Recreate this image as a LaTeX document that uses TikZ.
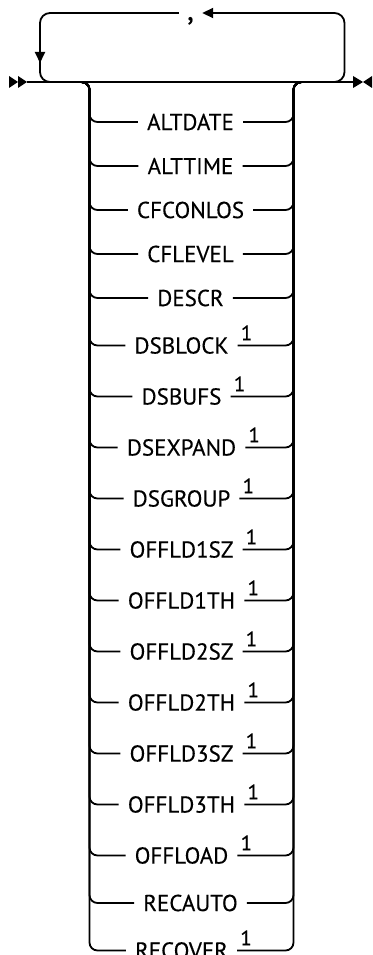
\documentclass[tikz,border=0pt]{standalone}
\usepackage{fontspec}
\setmainfont{PT Sans}[FakeBold=0.3]
\usetikzlibrary{arrows.meta}

\begin{document}
\begin{tikzpicture}[x=1pt, y=1pt,
  rail/.style={line width=1.8pt, rounded corners=8pt},
  arrow/.style={line width=1.8pt, -{Triangle[length=11pt, width=10pt]}},
  kw/.style={font=\fontsize{23}{26}\selectfont, inner xsep=9pt, inner ysep=2pt},
  note/.style={anchor=south west, font=\fontsize{21}{21}\selectfont, inner sep=0pt, xshift=3pt, yshift=5pt},
  noted/.style={xshift=-9pt, label={[note]east:1}}]

\useasboundingbox (0,0) rectangle (372,-955);

% start and end marks
\fill (9,-76) -- (18,-82) -- (9,-88) -- cycle;
\fill (18,-76) -- (27,-82) -- (18,-88) -- cycle;
\fill (353,-76) -- (363,-82) -- (353,-88) -- cycle;
\fill (372,-76) -- (363,-82) -- (372,-88) -- cycle;

\coordinate (start) at (27,-82);
\coordinate (stop) at (356,-82);
\draw[line width=1.8pt] (start) -- (stop);

% repeat loop with separator
\coordinate (loopTL) at (40,-13);
\coordinate (loopTR) at (344.5,-13);
\node[kw, font=\fontsize{31}{31}\selectfont, inner xsep=0pt, minimum width=23pt, anchor=base] (comma) at (190.5,-20) {,};
\draw[rail, rounded corners=10pt, -{Triangle[length=11pt, width=10pt]}]
  (318,-82) -- (344.5,-82) -- (loopTR) -- (comma.east |- loopTR);
\draw[rail, rounded corners=10pt] (comma.west |- loopTL) -- (loopTL) -- (40,-82) -- (66,-82);
\draw[arrow] (40,-50) -- (40,-63);

% choice stack
\coordinate (inL) at (80,-82);
\coordinate (colL) at (89.5,-82);
\coordinate (colR) at (293.5,-82);
\coordinate (outR) at (303,-82);

\node[kw] (altdate) at (190.5,-122) {ALTDATE};
\node[kw] (alttime) at (190.5,-166) {ALTTIME};
\node[kw] (cfconlos) at (190.5,-210) {CFCONLOS};
\node[kw] (cflevel) at (190.5,-254) {CFLEVEL};
\node[kw] (descr) at (190.5,-298) {DESCR};
\node[kw, noted] (dsblock) at (190.5,-345.5) {DSBLOCK};
\node[kw, noted] (dsbufs) at (190.5,-396.5) {DSBUFS};
\node[kw, noted] (dsexpand) at (190.5,-447.5) {DSEXPAND};
\node[kw, noted] (dsgroup) at (190.5,-498.5) {DSGROUP};
\node[kw, noted] (offld1sz) at (190.5,-549.5) {OFFLD1SZ};
\node[kw, noted] (offld1th) at (190.5,-600.5) {OFFLD1TH};
\node[kw, noted] (offld2sz) at (190.5,-651.5) {OFFLD2SZ};
\node[kw, noted] (offld2th) at (190.5,-702.5) {OFFLD2TH};
\node[kw, noted] (offld3sz) at (190.5,-753.5) {OFFLD3SZ};
\node[kw, noted] (offld3th) at (190.5,-804.5) {OFFLD3TH};
\node[kw, noted] (offload) at (190.5,-855.5) {OFFLOAD};
\node[kw] (recauto) at (190.5,-903) {RECAUTO};
\node[kw, noted] (recover) at (190.5,-950.5) {RECOVER};

\foreach \k in {altdate,alttime,cfconlos,cflevel,descr,dsblock,dsbufs,dsexpand,dsgroup,
    offld1sz,offld1th,offld2sz,offld2th,offld3sz,offld3th,offload,recauto,recover}
  \draw[rail] (inL) -- (colL) |- (\k.west) (\k.east) -| (colR) -- (outR);
\end{tikzpicture}
\end{document}
